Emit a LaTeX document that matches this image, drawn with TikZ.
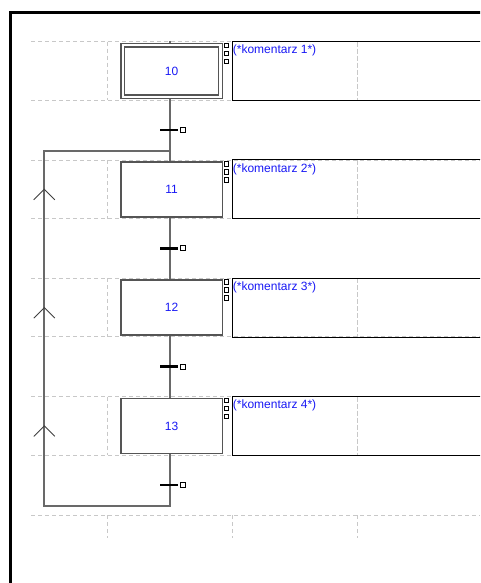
\documentclass[tikz,border=0pt]{standalone}
\usepackage{fontspec}
\setmainfont{Liberation Sans}
\usetikzlibrary{calc}
\definecolor{txtblue}{RGB}{25,25,245}
\definecolor{stepgray}{RGB}{85,85,85}
\definecolor{linkgray}{RGB}{105,105,105}
\definecolor{gridgray}{RGB}{200,200,200}
\begin{document}
\begin{tikzpicture}[x=1pt,y=-1pt,
  stepbox/.style={draw=stepgray, line width=1.5pt, minimum width=101.5pt, minimum height=55pt, inner sep=0pt, font=\fontsize{12}{14}\selectfont, text=txtblue},
  cmtbox/.style={draw=black, line width=1pt, minimum width=268pt, minimum height=59pt, inner sep=0pt},
  cmt/.style={inner sep=0pt, font=\fontsize{12}{14}\selectfont, text=txtblue},
  grid/.style={draw=gridgray, line width=0.9pt, dash pattern=on 4pt off 3pt},
  link/.style={draw=linkgray, line width=2pt},
  bar/.style={fill=black, minimum width=18pt, minimum height=2.6pt, inner sep=0pt},
  sqmark/.style={draw=black, line width=0.9pt, fill=white},
  trsq/.style={draw=black, line width=0.9pt, fill=white, minimum size=5pt, inner sep=0pt},
  chev/.style={draw=black!75, line width=0.9pt},
  frame/.style={draw=black, line width=2.3pt}]
\fill[white] (0,0) rectangle (480,583);
\useasboundingbox (0,0) rectangle (480,583);
\clip (0,0) rectangle (480,583);
% grid rows
\foreach \k in {0,...,3}{
  \pgfmathsetmacro\R{41.7+118.3*\k}
  \draw[grid] (31,\R) -- (480,\R);
  \draw[grid] (31,\R+58.5) -- (480,\R+58.5);
  \draw[grid] (107,\R) -- (107,\R+58.5);
  \draw[grid] (357,\R) -- (357,\R+58.5);
}
\draw[grid] (31,515) -- (480,515);
\foreach \xx in {107,232,357}{\draw[grid] (\xx,515) -- (\xx,538);}
% comment boxes
\foreach \k in {0,...,3}{
  \pgfmathsetmacro\R{41.7+118.3*\k}
  \pgfmathtruncatemacro\n{\k+1}
  \node[cmtbox] (c\k) at (366,\R+29.2) {};
  \draw[grid] (357,\R+1) -- (357,\R+58);
  \node[cmt, anchor=base west] (t\k) at ($(c\k.north west)+(1.2,13)$) {(*komentarz \n*)};
  \foreach \j in {0,1,2}{
    \draw[sqmark] (224.5,\R+1.6+8*\j) rectangle ++(4.4,4.4);
  }
}
% steps
\foreach \k/\lab in {0/10,1/11,2/12,3/13}{
  \pgfmathsetmacro\R{41.7+118.3*\k}
  \node[stepbox] (s\k) at (171.5,\R+29.3) {\lab};
}
\draw[draw=stepgray, line width=1.5pt] ($(s0.north west)+(4.4,4.1)$) rectangle ($(s0.south east)+(-4.4,-4.1)$);
% links
\coordinate (sp) at (170,41);
\coordinate (e) at (170,506);
\coordinate (lb) at (44.3,506);
\coordinate (lt) at (44.3,150.5);
\coordinate (j) at (170,150.5);
\draw[link] (sp) -- (sp |- s0.north);
\foreach \k/\m in {0/1,1/2,2/3}{
  \draw[link] (sp |- s\k.south) -- (sp |- s\m.north);
}
\draw[link] (sp |- s3.south) -- (e) -- (lb) -- (lt) -- (j);
% transitions
\foreach \k in {0,...,3}{
  \pgfmathsetmacro\T{130+118.3*\k}
  \node[bar] (tr\k) at (169,\T) {};
  \node[trsq] (q\k) at (183,\T) {};
}
% direction chevrons
\foreach \k in {0,1,2}{
  \pgfmathsetmacro\C{189.3+118.3*\k}
  \coordinate (ch\k) at (44.3,\C);
  \draw[chev] ($(ch\k)+(-10.5,10.5)$) -- (ch\k) -- ($(ch\k)+(10.5,10.5)$);
}
% frame
\draw[frame] (10.5,600) -- (10.5,12.5) -- (500,12.5);
\end{tikzpicture}
\end{document}
